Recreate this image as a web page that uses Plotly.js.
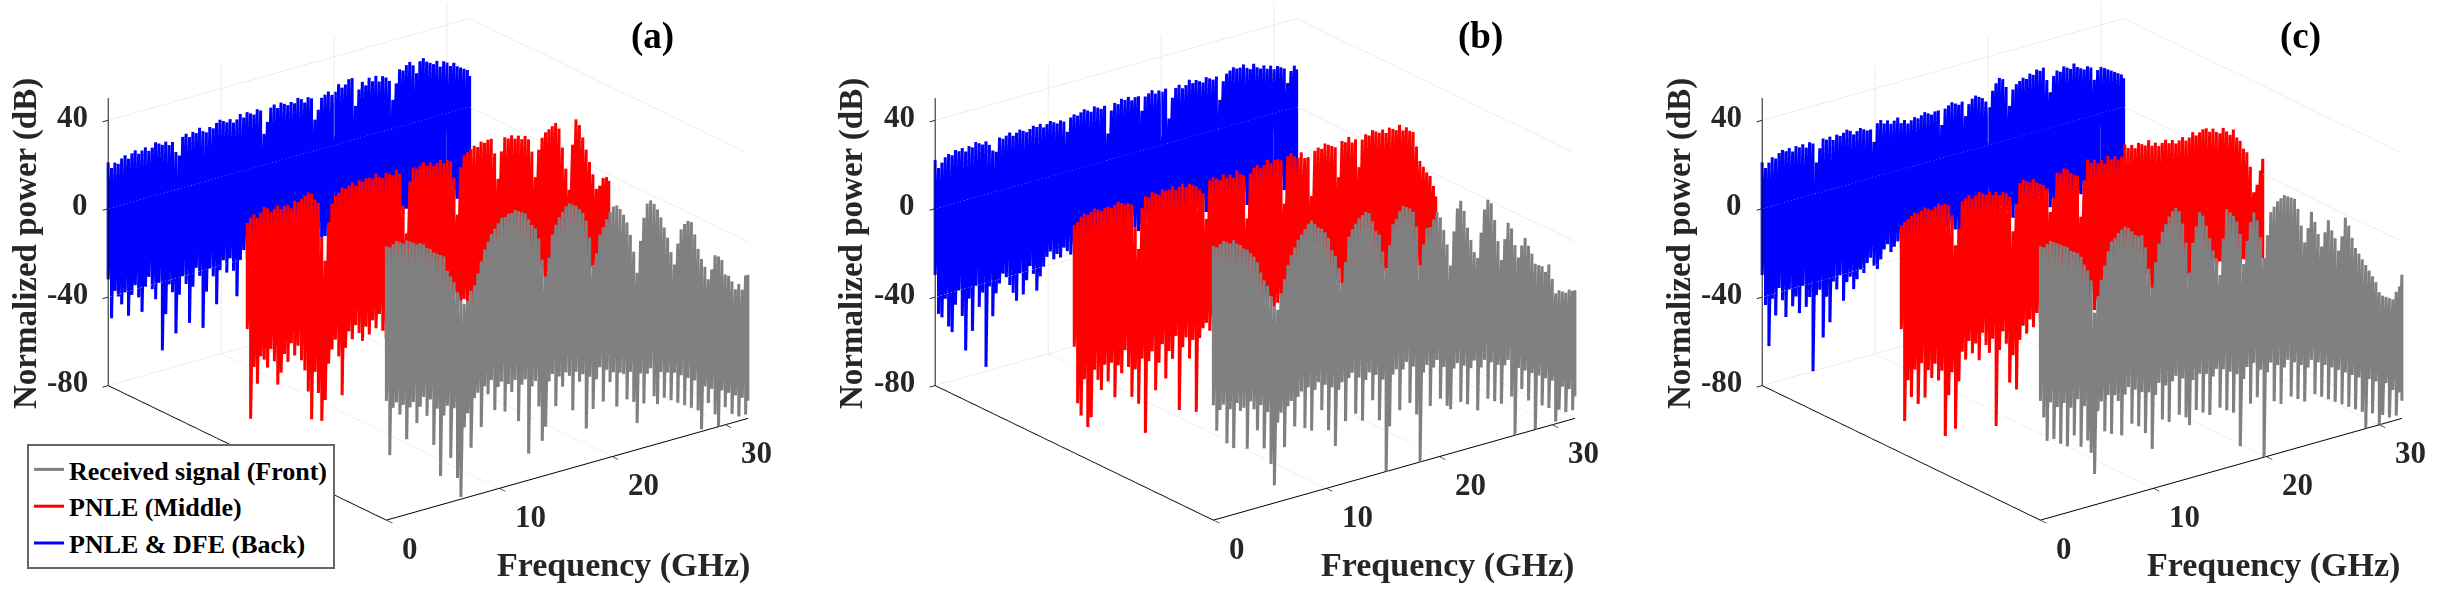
<!DOCTYPE html>
<html><head><meta charset="utf-8"><script src="https://cdn.plot.ly/plotly-3.0.1.min.js"></script>
<style>html,body{margin:0;padding:0;background:#fff}#c{width:2448px;height:592px}</style></head><body><div id="c"></div>
<script>
const FREQ=[0,.3,.6,.9,1.2,1.5,1.8,2.1,2.4,2.7,3,3.3,3.6,3.9,4.2,4.5,4.8,5.1,
5.4,5.7,6,6.3,6.6,6.9,7.2,7.5,7.8,8.1,8.4,8.7,9,9.3,9.6,9.9,10.2,10.5,
10.8,11.1,11.4,11.7,12,12.3,12.6,12.9,13.2,13.5,13.8,14.1,14.4,14.7,15,15.3,15.6,15.9,
16.2,16.5,16.8,17.1,17.4,17.7,18,18.3,18.6,18.9,19.2,19.5,19.8,20.1,20.4,20.7,21,21.3,
21.6,21.9,22.2,22.5,22.8,23.1,23.4,23.7,24,24.3,24.6,24.9,25.2,25.5,25.8,26.1,26.4,26.7,
27,27.3,27.6,27.9,28.2,28.5,28.8,29.1,29.4,29.7,30,30.3,30.6,30.9,31.2,31.5,31.8,32];
const SERIES_NAMES=['Received signal (Front)','PNLE (Middle)','PNLE & DFE (Back)'];
const SERIES_COLORS=['#808080','#ff0000','#0000ff'];
const SERIES_DEPTH=[0,1,2];
const FREQ_TICKS=[0,10,20,30];
const POWER_TICKS=[-80,-40,0,40];
const PANEL_LABELS=['(a)','(b)','(c)'];

const backUpperA=[21,18,20,19,21,22,20,22,23,21,22,23,21,22,24,23,22,23,
21,22,17,15,23,24,22,24,23,25,23,22,24,23,25,26,25,24,
25,23,24,26,24,26,25,24,26,25,14,19,25,26,24,26,25,24,
25,24,26,25,23,25,24,14,18,23,24,25,23,24,27,25,26,28,
28,15,22,25,23,26,24,26,23,25,24,22,13,20,26,25,27,28,
26,22,27,28,26,25,24,25,22,24,23,21,22,20,19,18,17,14];
const backLowerA=[-32,-50,-38,-41,-45,-40,-51,-42,-38,-44,-51,-40,-36,-42,-47,-40,-71,-55,
-42,-46,-65,-48,-40,-44,-62,-46,-38,-42,-66,-50,-40,-44,-57,-42,-38,-44,
-38,-44,-56,-40,-36,-40,-42,-38,-44,-40,-42,-38,-40,-44,-38,-42,-40,-44,
-42,-38,-44,-40,-42,-38,-44,-40,-38,-42,-40,-44,-38,-42,-40,-38,-44,-42,
-40,-44,-38,-42,-40,-38,-44,-42,-38,-40,-44,-42,-38,-40,-42,-44,-38,-40,
-44,-42,-38,-40,-42,-44,-40,-38,-42,-40,-44,-38,-42,-40,-38,-44,-40,-42];
const midUpperA=[24,26,27,25,27,29,28,26,27,28,26,27,27,25,28,27,28,29,
30,29,26,24,8,-3,14,22,25,26,28,27,28,29,27,29,28,29,
29,28,30,28,27,29,28,27,29,27,12,-1,22,28,27,28,29,27,
28,26,27,28,26,27,26,18,1,22,27,28,29,30,29,31,30,31,
31,24,12,24,30,29,30,28,29,27,28,26,20,8,20,25,27,28,
29,30,27,18,8,-2,18,29,26,20,14,8,2,-5,-4,-1,-1,-3];
const midLowerA=[-24,-65,-42,-50,-38,-40,-44,-36,-42,-53,-48,-40,-44,-36,-42,-38,-45,-50,
-60,-73,-52,-62,-75,-66,-50,-44,-40,-48,-66,-45,-38,-42,-36,-40,-44,-38,
-42,-36,-40,-34,-42,-46,-38,-40,-35,-38,-34,-40,-38,-42,-36,-40,-38,-42,
-40,-36,-42,-38,-40,-44,-38,-36,-40,-42,-38,-40,-44,-38,-42,-40,-36,-38,
-42,-40,-38,-44,-40,-36,-42,-38,-40,-44,-38,-42,-40,-36,-38,-42,-40,-44,
-38,-40,-42,-36,-40,-38,-44,-42,-38,-40,-36,-42,-40,-38,-44,-40,-42,-38];
const frontUpperA=[44,43,44,45,44,43,44,43,42,41,41,40,38,37,35,34,33,32,
25,22,19,14,10,8,9,13,15,20,25,30,33,36,38,40,42,42,
43,43,44,43,42,41,38,35,33,28,18,10,18,28,32,35,37,39,
40,39,38,36,34,30,22,9,14,22,25,28,31,33,33,31,28,24,
18,10,0,14,24,30,31,29,26,22,17,12,5,-1,8,14,16,17,
16,10,3,-2,-6,-12,-8,-2,-3,-5,-12,-13,-16,-20,-18,-21,-15,-15];
const frontLowerA=[-26,-51,-30,-28,-34,-30,-46,-32,-30,-40,-33,-29,-38,-31,-52,-36,-67,-40,
-36,-60,-38,-70,-79,-48,-42,-58,-36,-34,-50,-32,-36,-30,-44,-34,-32,-46,
-34,-38,-33,-52,-36,-34,-68,-38,-36,-48,-64,-58,-38,-35,-50,-37,-42,-36,
-38,-54,-37,-42,-39,-64,-41,-56,-43,-38,-54,-40,-46,-42,-58,-43,-44,-56,
-44,-58,-68,-46,-60,-47,-45,-58,-62,-48,-60,-49,-62,-50,-64,-52,-66,-54,
-68,-56,-70,-79,-60,-68,-62,-74,-80,-64,-72,-66,-76,-68,-78,-70,-78,-72];

const backUpperB=[22,18,20,22,23,22,24,23,24,22,24,23,25,24,23,24,22,19,
18,24,23,24,25,23,24,25,24,23,24,25,24,25,23,24,25,24,
23,24,23,18,24,25,24,25,26,25,24,26,25,24,25,12,22,25,
24,26,25,26,24,25,25,18,24,25,26,24,25,24,25,11,20,24,
25,23,24,26,24,25,24,23,25,24,23,24,13,21,24,25,26,25,
25,26,24,23,25,23,22,23,21,22,20,21,20,19,12,17,19,17];
const backLowerB=[-30,-48,-50,-42,-55,-58,-46,-40,-52,-68,-45,-60,-40,-50,-44,-78,-42,-56,
-46,-42,-38,-40,-44,-48,-52,-40,-50,-44,-38,-42,-50,-44,-40,-36,-34,-38,
-36,-38,-34,-36,-38,-34,-36,-32,-34,-36,-38,-34,-36,-32,-34,-38,-36,-34,
-36,-38,-34,-36,-32,-34,-36,-38,-34,-32,-36,-34,-38,-36,-34,-32,-36,-38,
-34,-36,-38,-32,-34,-36,-38,-34,-36,-32,-34,-38,-36,-34,-32,-36,-38,-34,
-36,-34,-38,-32,-36,-34,-38,-36,-32,-34,-36,-38,-34,-36,-32,-34,-38,-36];
const midUpperB=[23,24,26,27,26,27,28,27,26,27,27,26,27,28,27,26,26,25,
14,4,22,27,26,28,27,26,28,27,27,28,26,27,28,26,27,26,
25,23,21,9,26,27,26,25,27,25,26,24,27,25,24,4,24,26,
27,25,26,28,26,27,27,26,6,27,28,26,25,27,24,24,6,26,
27,26,28,27,26,25,11,27,26,28,25,26,13,25,27,26,28,27,
26,27,25,27,26,25,27,24,25,23,22,15,8,5,2,0,-5,-10];
const midLowerB=[-32,-58,-64,-48,-70,-66,-45,-50,-55,-44,-52,-44,-60,-46,-50,-40,-48,-62,
-50,-66,-46,-80,-48,-44,-62,-50,-42,-58,-46,-50,-40,-74,-46,-42,-52,-44,
-77,-44,-40,-38,-42,-36,-40,-38,-42,-36,-40,-44,-38,-42,-40,-36,-38,-42,
-40,-44,-38,-36,-42,-40,-38,-44,-36,-40,-42,-38,-40,-36,-44,-38,-42,-40,
-36,-38,-42,-40,-44,-38,-36,-40,-42,-38,-40,-36,-44,-38,-42,-40,-36,-38,
-42,-40,-38,-44,-36,-40,-42,-38,-36,-40,-44,-38,-42,-36,-40,-38,-42,-40];
const frontUpperB=[44,43,44,45,44,43,44,42,41,39,38,36,34,31,26,22,19,14,
9,7,14,20,26,30,33,36,38,40,42,43,41,39,38,36,33,27,
24,18,11,20,31,34,36,38,39,40,39,35,30,28,20,12,22,31,
33,36,38,37,36,34,27,9,18,25,25,28,31,28,22,15,5,20,
30,33,28,20,14,8,5,16,26,30,28,20,10,1,10,17,14,6,
0,5,8,4,0,-5,-6,-7,-10,-7,-14,-21,-20,-21,-22,-21,-22,-22];
const frontLowerB=[-28,-40,-31,-29,-47,-32,-50,-30,-34,-33,-52,-31,-35,-45,-34,-54,-38,-62,
-72,-44,-40,-56,-38,-36,-48,-35,-33,-50,-32,-52,-34,-31,-44,-33,-54,-35,
-62,-37,-34,-52,-33,-31,-50,-34,-54,-36,-33,-46,-35,-56,-38,-80,-60,-37,
-35,-54,-36,-33,-52,-36,-58,-80,-40,-37,-56,-39,-36,-54,-40,-58,-60,-42,
-40,-58,-42,-60,-44,-41,-64,-45,-42,-60,-44,-62,-46,-64,-47,-45,-62,-80,
-50,-60,-52,-66,-54,-80,-56,-70,-58,-72,-60,-79,-74,-64,-76,-66,-76,-70];

const backUpperC=[21,18,20,22,21,23,24,23,24,22,24,23,24,22,24,23,14,20,
24,23,24,22,24,23,24,25,24,22,23,24,23,22,22,16,24,25,
23,24,22,23,24,21,22,20,21,22,21,22,23,22,21,22,22,15,
22,23,24,23,22,23,16,21,23,24,23,22,20,17,24,27,29,28,
24,15,22,24,25,26,25,27,26,28,27,28,22,16,23,25,24,26,
25,24,26,24,23,22,23,22,16,20,21,20,19,18,17,16,15,13];
const backLowerC=[-30,-44,-63,-42,-50,-38,-44,-52,-40,-48,-44,-52,-40,-50,-46,-80,-46,-44,
-66,-48,-60,-42,-46,-40,-52,-44,-42,-48,-44,-40,-42,-38,-36,-40,-42,-38,
-34,-32,-36,-34,-32,-36,-38,-34,-32,-36,-34,-38,-32,-36,-34,-32,-36,-38,
-34,-32,-36,-34,-38,-32,-36,-34,-32,-36,-38,-34,-32,-36,-34,-38,-32,-36,
-34,-32,-36,-38,-34,-32,-36,-34,-38,-32,-36,-34,-32,-36,-38,-34,-32,-36,
-34,-38,-32,-36,-34,-32,-36,-38,-34,-32,-36,-34,-38,-32,-36,-34,-32,-36];
const midUpperC=[23,24,25,26,27,26,27,28,27,26,27,28,27,27,26,21,7,14,
26,27,28,26,27,28,27,26,27,25,26,24,25,24,22,6,18,27,
28,27,26,27,25,24,23,21,10,16,27,26,28,27,25,24,23,4,
20,29,27,28,26,27,25,28,26,27,25,26,31,29,30,28,30,29,
28,30,27,28,26,27,28,26,27,25,26,27,25,26,28,26,27,28,
28,26,27,25,24,26,24,22,24,20,18,14,12,5,-7,-4,2,7];
const midLowerC=[-24,-66,-48,-56,-44,-60,-42,-58,-46,-50,-44,-52,-48,-78,-60,-50,-76,-55,
-42,-46,-38,-44,-40,-48,-36,-42,-46,-40,-80,-46,-38,-44,-62,-50,-66,-44,
-38,-42,-36,-40,-34,-38,-36,-40,-38,-34,-36,-40,-38,-42,-36,-34,-38,-40,
-36,-38,-34,-40,-36,-38,-42,-34,-36,-40,-38,-36,-34,-40,-38,-42,-36,-38,
-34,-36,-40,-38,-42,-36,-34,-38,-40,-36,-38,-34,-42,-36,-40,-38,-34,-36,
-40,-38,-36,-42,-34,-38,-40,-36,-34,-38,-42,-36,-40,-34,-38,-36,-40,-38];
const frontUpperC=[44,43,44,45,44,43,42,41,40,38,37,36,34,30,27,22,7,14,
21,27,33,37,38,40,41,42,41,39,37,36,36,30,20,11,22,30,
35,38,41,43,44,42,36,27,13,26,33,39,37,32,26,20,16,8,
24,37,35,33,30,24,10,20,28,32,28,20,10,20,30,32,34,35,
36,35,34,33,28,20,12,18,25,20,14,8,14,19,14,10,4,10,
18,14,8,3,0,-3,-6,-9,-12,-15,-20,-22,-23,-24,-25,-22,-20,-15];
const frontLowerC=[-26,-34,-45,-28,-45,-31,-48,-30,-50,-33,-46,-30,-52,-34,-50,-56,-66,-38,
-34,-48,-32,-50,-33,-36,-52,-34,-31,-48,-33,-50,-35,-54,-36,-62,-38,-33,
-50,-35,-52,-34,-32,-50,-34,-52,-56,-36,-50,-34,-52,-35,-54,-37,-34,-52,
-35,-54,-37,-56,-39,-72,-42,-37,-54,-36,-52,-40,-80,-42,-38,-56,-40,-58,
-42,-39,-56,-41,-58,-43,-60,-45,-42,-58,-44,-60,-46,-62,-48,-64,-50,-66,
-52,-68,-54,-70,-56,-72,-80,-58,-74,-60,-80,-76,-62,-78,-66,-78,-68,-72];

const UPPER=[[frontUpperA,midUpperA,backUpperA],[frontUpperB,midUpperB,backUpperB],[frontUpperC,midUpperC,backUpperC]];
const LOWER=[[frontLowerA,midLowerA,backLowerA],[frontLowerB,midLowerB,backLowerB],[frontLowerC,midLowerC,backLowerC]];

const SERIF='"Liberation Serif","Times New Roman",serif';
const INK='#262626';
const W=2448,H=592;
const M=1.536,D=2,CZ=-0.137;
function tickNotes(){
 const n=[];
 POWER_TICKS.forEach(v=>n.push({x:0,y:2,z:v,text:String(v),showarrow:false,xanchor:'right',yanchor:'middle',xshift:-18,yshift:4,font:{family:SERIF,size:31,color:INK,weight:'bold'}}));
 FREQ_TICKS.forEach(v=>n.push({x:v,y:0,z:-80,text:String(v),showarrow:false,xanchor:'center',yanchor:'middle',xshift:v===0?24:31,yshift:-28,font:{family:SERIF,size:31,color:INK,weight:'bold'}}));
 return n;
}
function ax(range,vals,grid){return {range:range,autorange:false,tickvals:vals,ticktext:vals.map(String),showticklabels:false,showgrid:grid,gridcolor:'#dcdcdc',gridwidth:1,
 showline:true,linecolor:'#000',linewidth:2,ticks:grid?'outside':'',ticklen:7,tickcolor:INK,tickwidth:2,zeroline:false,showbackground:false,title:{text:''},showspikes:false};}
function sceneOf(cx){
 return {domain:{x:[(cx-366)/W,(cx+366)/W],y:[0,1]},aspectmode:'manual',aspectratio:{x:1*M,y:1.009*M,z:0.68*M},
  camera:{projection:{type:'orthographic'},up:{x:0,y:0,z:1},center:{x:0,y:0,z:CZ},eye:{x:-0.5636*D,y:-0.739*D,z:0.369*D+CZ}},
  xaxis:ax([0,32],FREQ_TICKS,true),yaxis:ax([0,2],SERIES_DEPTH,false),zaxis:ax([-80,50],POWER_TICKS,true),annotations:tickNotes()};
}
const SCENES=['scene','scene2','scene3'];
const data=[];
SCENES.forEach((s,p)=>{[2,1,0].forEach(k=>{
 const x=[],y=[],z=[];
 FREQ.forEach((f,i)=>{x.push(f,f);y.push(SERIES_DEPTH[k],SERIES_DEPTH[k]);z.push(UPPER[p][k][i],LOWER[p][k][i]);});
 data.push({type:'scatter3d',mode:'lines',scene:s,name:SERIES_NAMES[k],x:x,y:y,z:z,line:{color:SERIES_COLORS[k],width:6},showlegend:false,hoverinfo:'skip'});
});});
SERIES_NAMES.forEach((nm,k)=>data.push({type:'scatter3d',mode:'lines',scene:'scene',name:nm,x:[null],y:[null],z:[null],line:{color:SERIES_COLORS[k],width:3},showlegend:true}));
const notes=[];
PANEL_LABELS.forEach((t,p)=>{
 notes.push({xref:'paper',yref:'paper',x:[652,1480,2300][p]/W,y:1-36/H,text:t,showarrow:false,xanchor:'center',yanchor:'middle',font:{family:SERIF,size:37,color:'#000',weight:'bold'}});
 notes.push({xref:'paper',yref:'paper',x:[25,851,1679][p]/W,y:1-244/H,text:'Normalized power (dB)',textangle:-90,showarrow:false,xanchor:'center',yanchor:'middle',font:{family:SERIF,size:33,color:INK,weight:'bold'}});
 notes.push({xref:'paper',yref:'paper',x:[623,1447,2273][p]/W,y:1-565/H,text:'Frequency (GHz)',showarrow:false,xanchor:'center',yanchor:'middle',font:{family:SERIF,size:34,color:INK,weight:'bold'}});
});
const layout={width:W,height:H,margin:{l:0,r:0,t:0,b:0},paper_bgcolor:'#fff',
 scene:sceneOf(428),scene2:sceneOf(1255),scene3:sceneOf(2082),annotations:notes,showlegend:true,
 legend:{x:27/W,y:1-444/H,xanchor:'left',yanchor:'top',bgcolor:'#fff',bordercolor:'#666',borderwidth:2,itemwidth:30,traceorder:'normal',entrywidth:285,entrywidthmode:'pixels',font:{family:SERIF,size:26,color:'#000',weight:'bold'},tracegroupgap:0}};
Plotly.newPlot('c',data,layout,{displayModeBar:false});
</script></body></html>
